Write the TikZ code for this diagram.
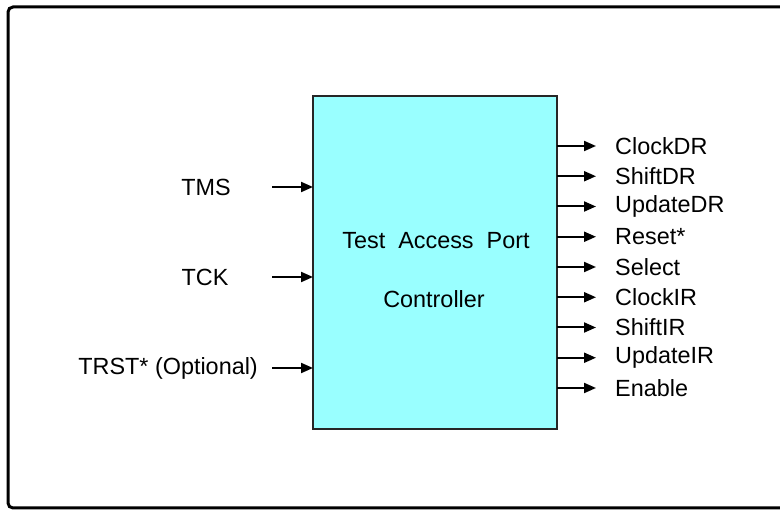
\documentclass[tikz,border=0pt]{standalone}
\usepackage{fontspec}
\setmainfont{Liberation Sans}
\usetikzlibrary{arrows.meta}
\begin{document}
\begin{tikzpicture}[x=1pt,y=-1pt,
  lbl/.style={font=\fontsize{23.4}{27}\selectfont, inner sep=0pt},
  sig/.style={line width=2pt, -{Triangle[length=12pt,width=10pt]}},
  tapbox/.style={draw=black!85, line width=2pt, fill=tapcyan}]
\definecolor{tapcyan}{HTML}{99FFFF}
\useasboundingbox (0,0) rectangle (780,510);
\clip (0,0) rectangle (780,510);
% outer frame (runs off the right edge)
\draw[line width=3pt, rounded corners=5pt] (8,7) rectangle (800,508);
% controller block
\draw[tapbox] (313,96) rectangle (557,429);
\node[lbl] (title1) at (436,241) {Test\ \ Access\ \ Port};
\node[lbl] (title2) at (434,299) {Controller};
% inputs
\foreach \nm/\txt/\y/\lx in {tms/TMS/187/206, tck/TCK/277/205} {
  \node[lbl] (\nm) at (\lx,\y) {\txt};
  \coordinate (\nm-s) at (272,\y);
  \coordinate (\nm-e) at (313,\y);
  \draw[sig] (\nm-s) -- (\nm-e);
}
\node[lbl, anchor=east] (trst) at (258,368) {TRST* (Optional)};
\coordinate (trst-s) at (272,368);
\coordinate (trst-e) at (313,368);
\draw[sig] (trst-s) -- (trst-e);
% outputs
\foreach \txt [count=\i from 0] in {ClockDR,ShiftDR,UpdateDR,Reset*,Select,ClockIR,ShiftIR,UpdateIR,Enable} {
  \pgfmathsetmacro{\yy}{146+30.25*\i}
  \coordinate (out\i-s) at (557,\yy);
  \coordinate (out\i-e) at (596,\yy);
  \draw[sig] (out\i-s) -- (out\i-e);
  \node[lbl, anchor=west] (outl\i) at (615,\yy) {\txt};
}
\end{tikzpicture}
\end{document}
